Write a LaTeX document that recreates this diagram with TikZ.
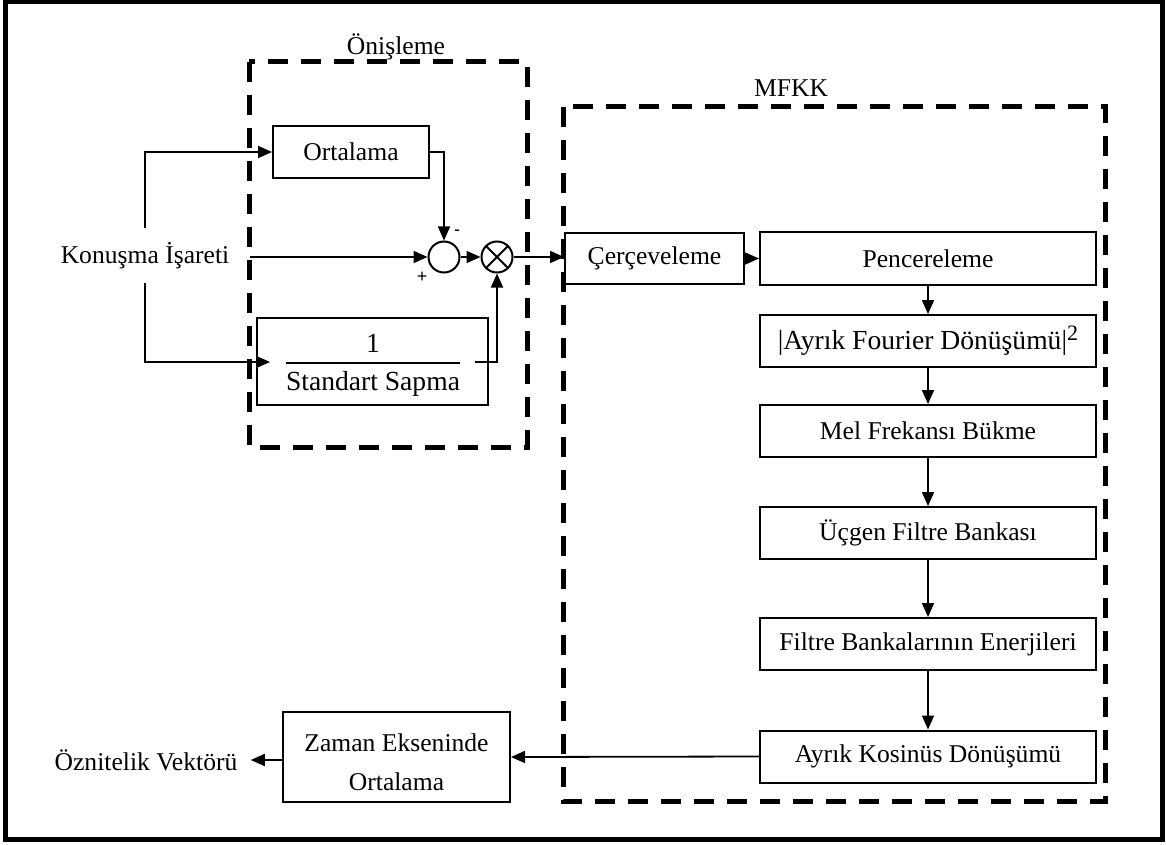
\documentclass[tikz,border=0pt]{standalone}
\usepackage{fontspec}
\setmainfont{Liberation Serif}
\newfontfamily\signfont{Liberation Sans}
\usetikzlibrary{arrows.meta}
\newcommand\mainsz{\fontsize{12.8}{15}\selectfont}
\newcommand\cambsz{\fontsize{13.8}{16}\selectfont}
\begin{document}
\begin{tikzpicture}[x=0.5pt,y=-0.5pt,
  box/.style={draw, line width=1pt, inner sep=0pt, font=\mainsz},
  colbox/.style={box, minimum width=168pt, minimum height=26pt},
  dbox/.style={draw, line width=2.5pt, dash pattern=on 10pt off 6.5pt},
  arr/.style={line width=0.9pt, -{Triangle[length=7pt,width=6pt]}},
  ring/.style={circle, draw, line width=1pt, minimum size=15.5pt, inner sep=0pt},
  lbl/.style={font=\mainsz, inner sep=0pt},
  sign/.style={font=\signfont\fontsize{9}{10}\selectfont, inner sep=0pt}]
\useasboundingbox (0,0) rectangle (1166,845);
% outer frame
\draw[line width=2.5pt] (5.5,2) rectangle (1162.5,839.5);
% dashed groups
\draw[dbox] (249,62) rectangle (527,447);
\draw[dbox] (563,107) rectangle (1105,801);
\node[lbl] (onlabel) at (396,47) {Önişleme};
\node[lbl] (mfkklabel) at (791,88) {MFKK};
% preprocessing
\node[lbl, minimum height=27.5pt] (konusma) at (145,255.5) {Konuşma İşareti};
\node[box, minimum width=78pt, minimum height=26pt] (ortalama) at (351,152) {Ortalama};
\node[box, minimum width=115.5pt, minimum height=43.5pt] (frac) at (372.5,361.5) {};
\node[font=\cambsz, inner sep=0pt] (fnum) at (373,343) {1};
\node[font=\cambsz, inner sep=0pt] (fden) at (373,384) {Standart Sapma};
\draw[line width=0.9pt] (286,363) -- (460,363);
\coordinate (fracin) at (270,362);
\coordinate (fracout) at (475,362);
\coordinate (midin) at (250,257);
\node[ring] (sum) at (444,257) {};
\node[ring, path picture={\draw[line width=1pt] (path picture bounding box.north west) -- (path picture bounding box.south east) (path picture bounding box.south west) -- (path picture bounding box.north east);}] (mult) at (497,257) {};
\node[sign] (minus) at (457,233) {-};
\node[sign] (plus) at (422,277) {+};
% MFKK column
\node[box, minimum width=89.5pt, minimum height=25.5pt] (cerc) at (654.5,258.5) {Çerçeveleme};
\node[colbox] (pencere) at (928,258.5) {Pencereleme};
\node[colbox, font=\cambsz] (fourier) at (928,341) {|Ayrık Fourier Dönüşümü|\raisebox{0.7ex}{\fontsize{11}{12}\selectfont 2}};
\node[colbox] (mel) at (928,431) {Mel Frekansı Bükme};
\node[colbox] (ucgen) at (928,533) {Üçgen Filtre Bankası};
\node[colbox] (enerji) at (928,644) {Filtre Bankalarının Enerjileri};
\node[colbox] (dct) at (928,756.5) {Ayrık Kosinüs Dönüşümü};
\node[box, minimum width=113.5pt, minimum height=45pt] (zaman) at (396.5,757) {};
\node[inner sep=0pt, align=center, font=\fontsize{12.8}{19.5}\selectfont] (zamantext) at (396.5,762) {Zaman Ekseninde\\Ortalama};
\node[lbl, inner xsep=6.5pt] (oz) at (146,760) {Öznitelik Vektörü};
% connectors
\draw[arr] (konusma.north) -- (konusma.north |- ortalama.west) -- (ortalama.west);
\draw[arr] (konusma.south) -- (konusma.south |- fracin) -- (fracin);
\draw[arr] (midin) -- (sum.west);
\draw[arr] (ortalama.east) -| (sum.north);
\draw[arr] (sum.east) -- (mult.west);
\draw[arr] (fracout) -| (mult.south);
\draw[arr] (mult.east) -- (mult.east -| cerc.west);
\draw[arr] (cerc.east) -- (pencere.west);
\draw[arr] (pencere.south) -- (fourier.north);
\draw[arr] (fourier.south) -- (mel.north);
\draw[arr] (mel.south) -- (ucgen.north);
\draw[arr] (ucgen.south) -- (enerji.north);
\draw[arr] (enerji.south) -- (dct.north);
\draw[arr] (dct.west) -- (zaman.east);
\draw[arr] (zaman.west |- oz.east) -- (oz.east);
\end{tikzpicture}
\end{document}
